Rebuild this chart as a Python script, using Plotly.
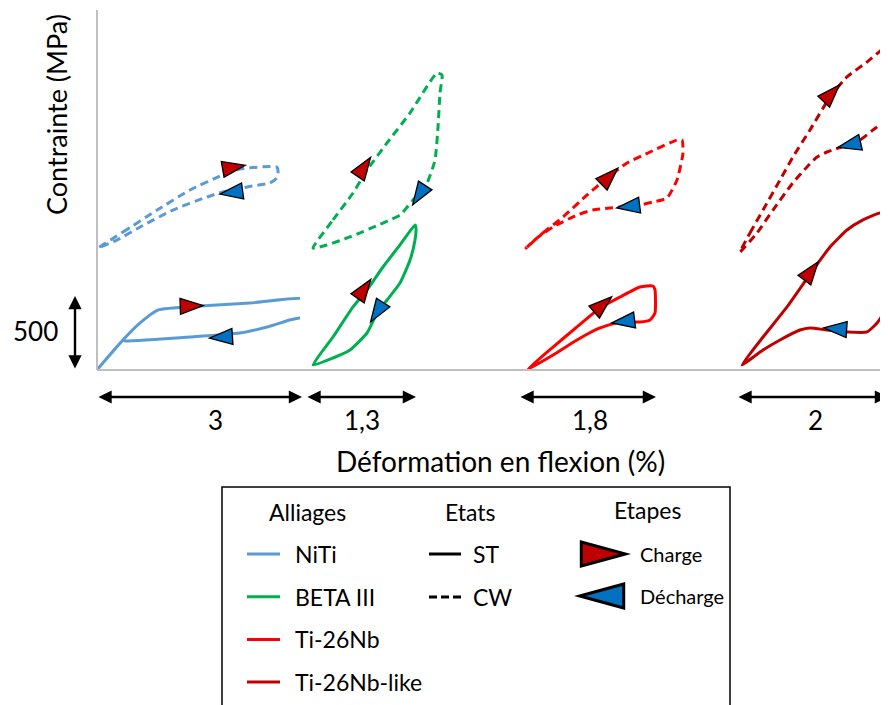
import math
import plotly.graph_objects as go

# the page body adds an 8 px margin, so the figure is shifted by that much
OFF = 8
W, H = 888 - OFF, 705 - OFF
BASE = 370  # screen row of the strain axis
PLOT_H = BASE - OFF

alloys = ["NiTi", "BETA III", "Ti-26Nb", "Ti-26Nb-like"]
colors = ["#5B9BD5", "#00B050", "#FF0000", "#C00000"]
strain_scale = [3, 1.3, 1.8, 2]   # % shown under each loop
stress_scale = 500                # MPa scale bar

# ---- curves: strain (%) / stress (MPa) ----
niti_st_eps = [0, 0.38, 0.63, 0.89, 1.51, 2.24, 3.12, 3.12, 2.82, 2.49, 2.09, 1.36, 0.41, 0.38, 0]
niti_st_sig = [0, 203, 318, 405, 432, 453, 480, 372, 338, 291, 250, 223, 196, 200, 0]
niti_cw_eps = [0.015, 0.38, 0.88, 1.36, 1.84, 2.09, 2.63, 2.65, 2.63, 2.53, 2.20, 1.84, 1.61, 1.11, 0.63, 0.29, 0.015]
niti_cw_sig = [824, 932, 1081, 1216, 1318, 1358, 1372, 1338, 1297, 1264, 1237, 1203, 1169, 1081, 966, 878, 824]

beta_st_eps = [0, 0.236, 0.473, 0.638, 0.827, 1.028, 1.206, 1.217, 1.206, 1.147, 1.028, 0.875, 0.757, 0.638, 0.437, 0.236, 0]
beta_st_sig = [34, 223, 426, 541, 696, 845, 980, 959, 878, 743, 588, 473, 385, 250, 135, 81, 34]
beta_cw_eps = [0, 0.236, 0.473, 0.638, 0.875, 1.147, 1.466, 1.525, 1.501, 1.478, 1.442, 1.348, 1.182, 1.028, 0.827, 0.437, 0.165, 0]
beta_cw_sig = [824, 1014, 1196, 1351, 1534, 1737, 2007, 1993, 1872, 1642, 1419, 1264, 1149, 1047, 993, 899, 845, 824]

tinb_st_eps = [0.013, 0.355, 0.67, 0.972, 1.235, 1.498, 1.669, 1.695, 1.695, 1.63, 1.498, 1.235, 0.972, 0.67, 0.355, 0.013]
tinb_st_sig = [0, 155, 291, 419, 493, 561, 568, 541, 385, 338, 324, 324, 284, 203, 101, 0]
tinb_cw_eps = [0, 0.223, 0.486, 0.80, 1.064, 1.327, 1.63, 1.984, 2.05, 2.063, 1.984, 1.853, 1.669, 1.498, 1.104, 0.88, 0.67, 0.355, 0.145, 0]
tinb_cw_sig = [824, 926, 1034, 1182, 1297, 1399, 1473, 1554, 1554, 1466, 1284, 1162, 1135, 1115, 1095, 1081, 1047, 966, 892, 824]

like_st_eps = [0.026, 0.305, 0.623, 0.967, 1.192, 1.417, 1.629, 1.854, 1.894, 1.894, 1.894, 1.815, 1.682, 1.417, 1.152, 0.927, 0.795, 0.53, 0.305, 0.026]
like_st_sig = [34, 223, 426, 676, 831, 946, 1014, 1061, 1047, 723, 385, 318, 257, 257, 270, 284, 270, 203, 135, 34]
like_cw_eps = [0, 0.132, 0.305, 0.53, 0.70, 0.927, 1.192, 1.417, 1.682, 1.92, 1.97, 1.947, 1.947, 1.762, 1.589, 1.417, 1.152, 1.02, 0.887, 0.70, 0.437, 0.225, 0]
like_cw_sig = [797, 926, 1081, 1284, 1439, 1622, 1845, 1980, 2081, 2182, 2203, 2162, 1703, 1622, 1554, 1520, 1473, 1439, 1372, 1264, 1081, 926, 797]

# ---- load / unload markers: CW charge, CW discharge, ST charge, ST discharge ----
niti_mark_eps = [1.95, 2.02, 1.33, 1.87]
niti_mark_sig = [1365, 1203, 432, 223]
beta_mark_eps = [0.579, 1.277, 0.579, 0.78]
beta_mark_sig = [1351, 1203, 527, 412]
tinb_mark_eps = [1.064, 1.393, 0.972, 1.327]
tinb_mark_sig = [1291, 1108, 426, 331]
like_mark_eps = [1.179, 1.497, 0.914, 1.311]
like_mark_sig = [1851, 1527, 649, 277]

curves = [
    (niti_st_eps, niti_st_sig, niti_cw_eps, niti_cw_sig, niti_mark_eps, niti_mark_sig),
    (beta_st_eps, beta_st_sig, beta_cw_eps, beta_cw_sig, beta_mark_eps, beta_mark_sig),
    (tinb_st_eps, tinb_st_sig, tinb_cw_eps, tinb_cw_sig, tinb_mark_eps, tinb_mark_sig),
    (like_st_eps, like_st_sig, like_cw_eps, like_cw_sig, like_mark_eps, like_mark_sig),
]

# marker orientation (deg, clockwise from up) - styling only
mark_angles = [[80, 262, 88, 266], [34, 213, 35, 213], [45, 263, 49, 263], [43, 257, 37, 274]]
# panel placement in screen pixels: left, right, zero-strain, px per %
panels = [(97, 316, 97, 68.33), (300, 450, 313, 84.6), (515, 695, 526, 76.1), (730, 888, 740, 75.5)]
bar_start = [0, -0.083, -0.092, -0.04]
label_px = [215, 362, 590, 815]

RED, BLUE = "#C00000", "#0070C0"
FONT = "Lato"
Y_MAX = PLOT_H * stress_scale / 74.0


def px(x):
    return (x - OFF) / W


def py(y):
    return (BASE - y) / PLOT_H


def tri_path(angle, length, half_w):
    a = math.radians(angle)
    dx, dy = math.sin(a), math.cos(a)
    nx, ny = dy, -dx
    pts = [(dx * length * 2 / 3, dy * length * 2 / 3),
           (-dx * length / 3 + nx * half_w, -dy * length / 3 + ny * half_w),
           (-dx * length / 3 - nx * half_w, -dy * length / 3 - ny * half_w)]
    return "M{:.1f},{:.1f} L{:.1f},{:.1f} L{:.1f},{:.1f} Z".format(*pts[0], *pts[1], *pts[2])


fig = go.Figure()
shapes = []
annotations = []


def text(x, y, s, size=23, anchor="center", angle=0):
    annotations.append(dict(x=px(x), y=py(y), xref="paper", yref="paper", showarrow=False, text=s,
                            xanchor=anchor, yanchor="middle", textangle=angle,
                            font=dict(size=size, color="black", family=FONT)))


for i, (st_e, st_s, cw_e, cw_s, m_e, m_s) in enumerate(curves):
    xa = "x" if i == 0 else "x%d" % (i + 1)
    for e, s, dash in [(st_e, st_s, "solid"), (cw_e, cw_s, "8px,5px")]:
        fig.add_trace(go.Scatter(
            x=e, y=s, xaxis=xa, yaxis="y", mode="lines", showlegend=False,
            line=dict(color=colors[i], width=3, dash=dash, shape="spline", smoothing=0.5),
            hoverinfo="skip"))
    for k in range(4):
        shapes.append(dict(
            type="path", xref=xa, yref="y", xsizemode="pixel", ysizemode="pixel",
            xanchor=m_e[k], yanchor=m_s[k], path=tri_path(mark_angles[i][k], 23, 8),
            fillcolor=RED if k % 2 == 0 else BLUE, line=dict(color="black", width=1.3), layer="above"))

    left, right, zero, scale = panels[i]
    fig.update_layout(**{
        ("xaxis" if i == 0 else "xaxis%d" % (i + 1)): dict(
            domain=[max(px(left), 0), min(px(right), 1)],
            range=[(max(left, OFF) - zero) / scale, (min(right, W + OFF) - zero) / scale],
            anchor="y", visible=False, fixedrange=True)})

    # strain scale bar
    annotations.append(dict(
        x=bar_start[i] + strain_scale[i], y=py(397), xref=xa, yref="paper",
        ax=bar_start[i], ay=0, axref=xa, ayref="pixel", text="", showarrow=True,
        arrowside="end+start", arrowhead=2, arrowsize=1.1, arrowwidth=2.4, arrowcolor="black"))
    text(label_px[i], 420, str(strain_scale[i]).replace(".", ","), size=26)

# stress scale bar
annotations.append(dict(
    x=px(75), y=stress_scale, xref="paper", yref="y", ax=0, ay=0, axref="pixel", ayref="y",
    text="", showarrow=True, arrowside="end+start", arrowhead=2, arrowsize=1.1,
    arrowwidth=2.4, arrowcolor="black"))
text(35, 331, str(stress_scale), size=26)

# axis titles
text(501, 461, "Déformation en flexion (%)", size=28)
text(57, 115, "Contrainte (MPa)", size=27, angle=-90)

# gray axis lines
shapes.append(dict(type="line", xref="paper", yref="paper", x0=px(97), x1=px(97), y0=0, y1=py(10),
                   line=dict(color="#BFBFBF", width=2)))
shapes.append(dict(type="line", xref="paper", yref="paper", x0=px(97), x1=1, y0=0, y1=0,
                   line=dict(color="#BFBFBF", width=2)))

# ---- legend box (open at the bottom, as in the cropped original) ----
shapes.append(dict(type="path", xref="paper", yref="paper",
                   path="M{0},{2} L{0},{3} L{1},{3} L{1},{2}".format(px(222), px(730), py(720), py(487)),
                   line=dict(color="black", width=1.5), layer="below"))

text(307, 512, "Alliages")
text(470, 512, "Etats")
text(647, 510, "Etapes")
for j, (name, col) in enumerate(zip(alloys, colors)):
    yy = 554 + j * 42.7
    shapes.append(dict(type="line", xref="paper", yref="paper", x0=px(247), x1=px(280), y0=py(yy), y1=py(yy),
                       line=dict(color=col, width=3)))
    text(293, yy, name, anchor="left")
for j, (name, dash) in enumerate([("ST", "solid"), ("CW", "8px,4px")]):
    yy = 554 + j * 43
    shapes.append(dict(type="line", xref="paper", yref="paper", x0=px(429), x1=px(461), y0=py(yy), y1=py(yy),
                       line=dict(color="black", width=3, dash=dash)))
    text(471, yy, name, anchor="left")
for j, (name, col, ang, cx) in enumerate([("Charge", RED, 90, 596), ("Décharge", BLUE, 270, 609)]):
    yy = 554 + j * 42
    shapes.append(dict(type="path", xref="paper", yref="paper", xsizemode="pixel", ysizemode="pixel",
                       xanchor=px(cx), yanchor=py(yy), path=tri_path(ang, 44, 12),
                       fillcolor=col, line=dict(color="black", width=3)))
    text(638, yy, name, size=20, anchor="left")

fig.update_layout(
    width=W, height=H,
    margin=dict(l=0, r=0, t=0, b=H - PLOT_H),
    paper_bgcolor="white", plot_bgcolor="white",
    yaxis=dict(range=[0, Y_MAX], anchor="x", visible=False, fixedrange=True),
    shapes=shapes, annotations=annotations, showlegend=False,
)

fig.write_html("out.html")
